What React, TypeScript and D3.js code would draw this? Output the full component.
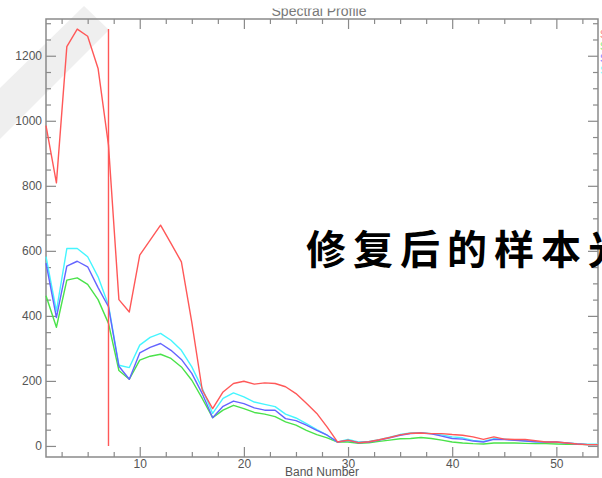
import React, { useEffect, useRef } from "react";
import * as d3 from "d3";

// band numbers on the x axis
const bands = [
  1, 2, 3, 4, 5, 6, 7, 8, 9, 10, 11, 12, 13, 14, 15, 16, 17, 18,
  19, 20, 21, 22, 23, 24, 25, 26, 27, 28, 29, 30, 31, 32, 33, 34, 35, 36,
  37, 38, 39, 40, 41, 42, 43, 44, 45, 46, 47, 48, 49, 50, 51, 52, 53, 54,
];

// spectra
const redValues = [
  985, 809, 1228, 1282, 1260, 1161, 925, 450, 412, 587, 633, 679, 623, 566, 380, 172, 115, 166,
  192, 199, 190, 194, 192, 182, 161, 131, 100, 58, 12, 18, 10, 13, 19, 26, 34, 39,
  40, 38, 38, 35, 33, 28, 20, 28, 21, 20, 20, 16, 12, 12, 9, 6, 4, 4,
];
const cyanValues = [
  582, 415, 607, 607, 582, 520, 433, 248, 241, 310, 334, 346, 325, 294, 243, 177, 100, 146,
  163, 151, 135, 128, 121, 98, 86, 69, 50, 33, 12, 20, 12, 14, 19, 27, 35, 40,
  41, 38, 34, 28, 25, 17, 14, 22, 21, 18, 16, 13, 11, 11, 9, 7, 5, 5,
];
const blueValues = [
  562, 395, 553, 568, 551, 487, 428, 245, 205, 286, 303, 315, 294, 266, 223, 161, 87, 122,
  138, 130, 117, 110, 110, 84, 78, 64, 48, 33, 12, 17, 10, 12, 18, 25, 33, 38,
  40, 37, 30, 23, 21, 15, 12, 20, 20, 17, 15, 13, 12, 12, 9, 6, 4, 4,
];
const greenValues = [
  462, 365, 510, 517, 497, 450, 377, 232, 205, 264, 276, 282, 269, 243, 202, 146, 87, 110,
  125, 115, 103, 98, 90, 74, 64, 48, 35, 25, 12, 12, 8, 10, 14, 18, 22, 23,
  26, 23, 18, 12, 9, 7, 6, 9, 9, 9, 8, 7, 7, 6, 5, 5, 4, 4,
];

// cursor line
const cursorBand = 7;
const cursorRange = [0, 1282];

// axes
const xDomain = [1, 54];
const yDomain = [-34, 1313];
const xMajorTicks = [10, 20, 30, 40, 50];
const yMajorTicks = [0, 200, 400, 600, 800, 1000, 1200];

const legendLabels = ["Sample 1", "Sample 2", "Sample 3", "Sample 4"];
const chartTitle = "Spectral Profile";
const xTitle = "Band Number";
const overlayText = "修复后的样本光谱";

const App = () => {
  const ref = useRef<SVGSVGElement>(null);

  useEffect(() => {
    const svg = d3.select(ref.current);
    svg.selectAll("*").remove();

    const left = 46, right = 598, top = 19, bottom = 457;
    const x = d3.scaleLinear().domain(xDomain).range([left, right]);
    const y = d3.scaleLinear().domain(yDomain).range([bottom, top]);
    const axisColor = "#8a8a8a";
    const labelColor = "#555";
    const font = "'Liberation Sans', Arial, sans-serif";

    // faint watermark stripe
    svg.append("polygon")
      .attr("points", "0,88 84,6 109,30 0,139")
      .attr("fill", "#efefef");

    svg.append("defs").append("clipPath").attr("id", "titleClip")
      .append("rect").attr("x", 0).attr("y", 8.5).attr("width", 602).attr("height", 20);

    svg.append("text")
      .attr("x", (left + right) / 2 - 3)
      .attr("y", 16)
      .attr("text-anchor", "middle")
      .attr("font-family", font)
      .attr("font-size", 14)
      .attr("fill", "#777")
      .attr("clip-path", "url(#titleClip)")
      .text(chartTitle);

    // axes, ticks point inward
    const xMinor = d3.range(2.5, 54, 2.5).filter(v => v % 10 !== 0);
    const yMinor = d3.range(0, 1313, 50).filter(v => v % 200 !== 0);

    const styleAxis = (g: any, labels: boolean) => {
      g.select(".domain").remove();
      g.selectAll("line").attr("stroke", axisColor).attr("stroke-width", 1.2);
      g.selectAll("text").attr("fill", labelColor).attr("font-size", 12).attr("font-family", font);
      if (!labels) g.selectAll("text").remove();
    };

    svg.append("g").attr("transform", `translate(0,${bottom})`)
      .call(d3.axisBottom(x).tickValues(xMajorTicks).tickSize(-10).tickPadding(2).tickFormat(d3.format("d")))
      .call(g => styleAxis(g, true));
    svg.append("g").attr("transform", `translate(0,${bottom})`)
      .call(d3.axisBottom(x).tickValues(xMinor).tickSize(-5))
      .call(g => styleAxis(g, false));
    svg.append("g").attr("transform", `translate(0,${top})`)
      .call(d3.axisTop(x).tickValues(xMajorTicks).tickSize(-10))
      .call(g => styleAxis(g, false));
    svg.append("g").attr("transform", `translate(0,${top})`)
      .call(d3.axisTop(x).tickValues(xMinor).tickSize(-5))
      .call(g => styleAxis(g, false));

    svg.append("g").attr("transform", `translate(${left},0)`)
      .call(d3.axisLeft(y).tickValues(yMajorTicks).tickSize(-10).tickPadding(4).tickFormat(d3.format("d")))
      .call(g => styleAxis(g, true));
    svg.append("g").attr("transform", `translate(${left},0)`)
      .call(d3.axisLeft(y).tickValues(yMinor).tickSize(-5))
      .call(g => styleAxis(g, false));
    svg.append("g").attr("transform", `translate(${right},0)`)
      .call(d3.axisRight(y).tickValues(yMajorTicks).tickSize(-10))
      .call(g => styleAxis(g, false));
    svg.append("g").attr("transform", `translate(${right},0)`)
      .call(d3.axisRight(y).tickValues(yMinor).tickSize(-5))
      .call(g => styleAxis(g, false));

    svg.append("rect")
      .attr("x", left).attr("y", top)
      .attr("width", right - left).attr("height", bottom - top)
      .attr("fill", "none").attr("stroke", axisColor).attr("stroke-width", 1.5);

    svg.append("text")
      .attr("x", 322).attr("y", 476)
      .attr("text-anchor", "middle")
      .attr("font-family", font).attr("font-size", 12)
      .attr("fill", labelColor)
      .text(xTitle);

    // spectra
    const series = [
      { key: "green", values: greenValues, color: "#4ae24a" },
      { key: "cyan", values: cyanValues, color: "#45f5ff" },
      { key: "blue", values: blueValues, color: "#6464ff" },
      { key: "red", values: redValues, color: "#ff5858" },
    ];
    const line = d3.line<number>().x((d, i) => x(bands[i])).y(d => y(d));

    svg.append("g").selectAll("path").data(series).join("path")
      .attr("d", d => line(d.values))
      .attr("fill", "none")
      .attr("stroke", d => d.color)
      .attr("stroke-width", 1.4)
      .attr("stroke-linejoin", "round");

    svg.append("line")
      .attr("x1", x(cursorBand)).attr("x2", x(cursorBand))
      .attr("y1", y(cursorRange[0])).attr("y2", y(cursorRange[1]))
      .attr("stroke", "#ff5858").attr("stroke-width", 1.4);

    // legend, mostly cut off by the right edge
    const legendColors = ["#ff8080", "#80ee80", "#8080ff", "#80ffff"];
    svg.append("g").selectAll("text").data(legendLabels).join("text")
      .attr("x", 600)
      .attr("y", (d, i) => 38 + i * 12)
      .attr("font-family", font).attr("font-size", 10)
      .attr("fill", (d, i) => legendColors[i])
      .text(d => d);

    svg.append("text")
      .attr("x", 306).attr("y", 247)
      .attr("dominant-baseline", "central")
      .attr("font-family", "'Noto Sans CJK SC', sans-serif")
      .attr("font-weight", 700)
      .attr("font-size", 40)
      .attr("letter-spacing", 7)
      .attr("fill", "#000")
      .text(overlayText);
  }, []);

  return (
    <svg ref={ref} width={602} height={478}
      style={{ position: "absolute", left: 0, top: 0, background: "#fff" }} />
  );
};

export default App;
